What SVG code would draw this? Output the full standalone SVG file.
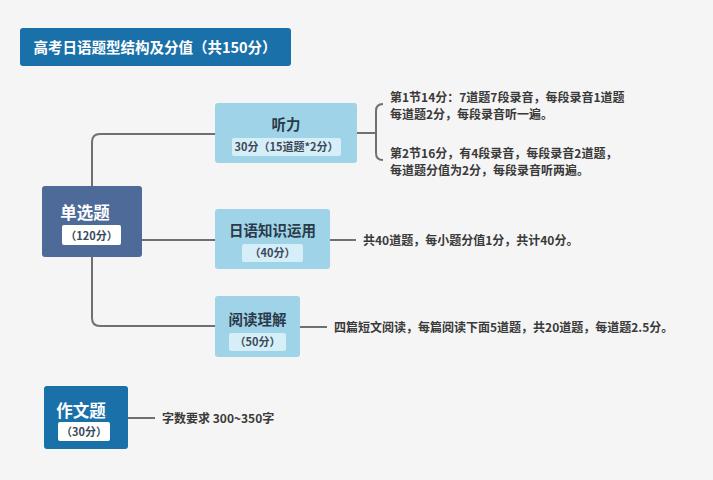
<svg xmlns="http://www.w3.org/2000/svg" width="713" height="480" viewBox="0 0 713 480">
<style>
text{font-family:"Noto Sans CJK SC","Noto Sans",sans-serif;font-weight:bold}
.w{fill:#fff}
.t{fill:#2b3a4a;font-size:14.5px;text-anchor:middle}
.s{fill:#3b4a5a;font-size:11px;text-anchor:middle}
.d{fill:#3a3a3a;font-size:12px}
.lb{fill:#9fd4e8}
.sb{fill:#d6eef7}
.ln{fill:none;stroke:#707070;stroke-width:2}
</style>
<rect width="713" height="480" fill="#f5f5f5"/>
<g id="title">
<rect x="20" y="28" width="271" height="38" rx="3" fill="#1a70a8"/>
<text x="155" y="53" class="w" font-size="14.5" text-anchor="middle">高考日语题型结构及分值（共150分）</text>
</g>
<g id="connectors">
<path class="ln" d="M215 134 H100 Q92 134 92 142 V318 Q92 326 100 326 H215"/>
<path class="ln" d="M142 240 H215"/>
<path class="ln" d="M357 133 H376"/>
<path class="ln" d="M383 104 Q376 104 376 111 V153 Q376 160 383 160"/>
<path class="ln" d="M330 240 H356"/>
<path class="ln" d="M300 327 H327"/>
<path class="ln" d="M128 418 H155"/>
</g>
<g id="danxuan">
<rect x="42" y="186" width="100" height="71" rx="3" fill="#4e6a99"/>
<text x="85" y="219" class="w" font-size="16.5" text-anchor="middle">单选题</text>
<rect x="62" y="225" width="59" height="20" rx="2" fill="#fff"/>
<text x="91.5" y="239.5" class="s" font-size="11.5">（120分）</text>
</g>
<g id="tingli">
<rect x="215" y="103" width="142" height="60" rx="3" class="lb"/>
<text x="286" y="130" class="t">听力</text>
<rect x="232" y="138" width="109" height="18" rx="2" class="sb"/>
<text x="286.5" y="151" class="s">30分（15道题*2分）</text>
</g>
<g id="zhishi">
<rect x="215" y="209" width="115" height="60" rx="3" class="lb"/>
<text x="272.5" y="236" class="t">日语知识运用</text>
<rect x="242" y="244" width="61" height="18" rx="2" class="sb"/>
<text x="272.5" y="257" class="s">（40分）</text>
</g>
<g id="yuedu">
<rect x="215" y="296" width="85" height="61" rx="3" class="lb"/>
<text x="257.5" y="325" class="t">阅读理解</text>
<rect x="229" y="333" width="57" height="18" rx="2" class="sb"/>
<text x="257.5" y="346" class="s">（50分）</text>
</g>
<g id="zuowen">
<rect x="44" y="386" width="84" height="63" rx="3" fill="#1a70a8"/>
<text x="81" y="417" class="w" font-size="16.5" text-anchor="middle">作文题</text>
<rect x="58" y="422" width="52" height="19" rx="2" fill="#fff"/>
<text x="84" y="436" class="s">（30分）</text>
</g>
<g id="notes">
<text x="390" y="102" class="d">第1节14分：7道题7段录音，每段录音1道题</text>
<text x="390" y="119" class="d">每道题2分，每段录音听一遍。</text>
<text x="390" y="158" class="d">第2节16分，有4段录音，每段录音2道题，</text>
<text x="390" y="175" class="d">每道题分值为2分，每段录音听两遍。</text>
<text x="363" y="245" class="d">共40道题，每小题分值1分，共计40分。</text>
<text x="334" y="332" class="d">四篇短文阅读，每篇阅读下面5道题，共20道题，每道题2.5分。</text>
<text x="162" y="423" class="d">字数要求 300~350字</text>
</g>
</svg>
